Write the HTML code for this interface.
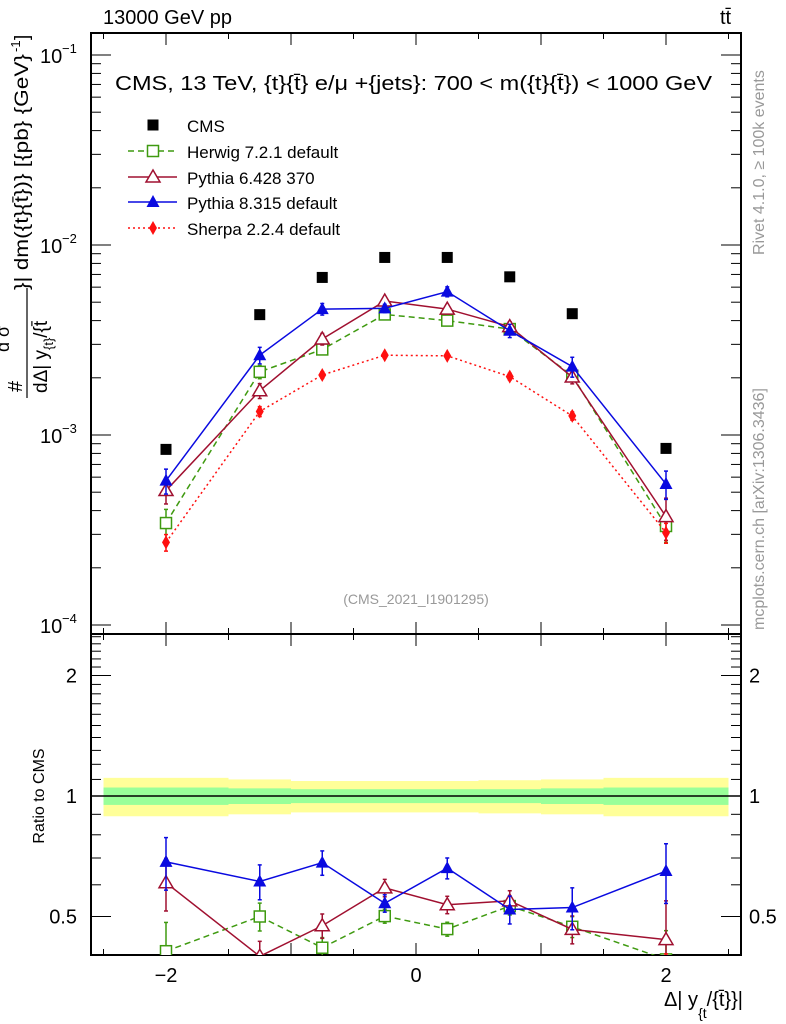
<!DOCTYPE html>
<html><head><meta charset="utf-8"><style>
html,body{margin:0;padding:0;background:#fff;}
svg{display:block;font-family:"Liberation Sans",sans-serif;}
</style></head><body>
<svg id="plot" width="786" height="1024" viewBox="0 0 786 1024" xmlns="http://www.w3.org/2000/svg">
<defs>
<clipPath id="clipMain"><rect x="91" y="33" width="650" height="601"/></clipPath>
<clipPath id="clipRatio"><rect x="91" y="634" width="650" height="321"/></clipPath>
</defs>
<text x="103" y="24" font-size="20">13000 GeV pp</text>
<text x="720" y="24" font-size="20">tt̄</text>
<g id="bands" clip-path="url(#clipRatio)"></g>
<g id="axes"></g>
<text x="115" y="90" font-size="20" textLength="597" lengthAdjust="spacingAndGlyphs">CMS, 13 TeV, {t}{t̄} e/μ +{jets}: 700 &lt; m({t}{t̄}) &lt; 1000 GeV</text>
<text x="416" y="604" font-size="14" fill="#999" text-anchor="middle">(CMS_2021_I1901295)</text>
<g id="series"></g>
<g id="legend"></g>
<g transform="rotate(-90)">
<text x="-392" y="22" font-size="20">#</text>
<text x="-352" y="9" font-size="18">d σ</text>
<line x1="-398" y1="27" x2="-288" y2="27" stroke="#000" stroke-width="1.2"/>
<text x="-393" y="47" font-size="19">dΔ| y<tspan font-size="13" dy="6">{t}</tspan><tspan dy="-6">/{t̄</tspan></text>
<text x="-290" y="28" font-size="19" textLength="236" lengthAdjust="spacingAndGlyphs">}| dm({t}{t̄})} [{pb} {GeV}</text>
<text x="-52" y="20" font-size="13">-1</text><text x="-40" y="28" font-size="19">]</text>
</g>
<text transform="translate(44,796) rotate(-90)" font-size="16" text-anchor="middle">Ratio to CMS</text>
<text transform="translate(764,255) rotate(-90)" font-size="16" fill="#999">Rivet 4.1.0, ≥ 100k events</text>
<text transform="translate(764,630) rotate(-90)" font-size="16" fill="#999">mcplots.cern.ch [arXiv:1306.3436]</text>
<text x="743" y="1006" font-size="20" text-anchor="end">Δ| y<tspan font-size="14" dy="12">{t</tspan><tspan dy="-12">/{t̄}}|</tspan></text>
</svg>
<script>
const xCenters=[-2,-1.25,-0.75,-0.25,0.25,0.75,1.25,2];
const binEdges=[-2.5,-1.5,-1,-0.5,0,0.5,1,1.5,2.5];
const cmsValues=[8.4e-4,4.3e-3,6.75e-3,8.6e-3,8.6e-3,6.8e-3,4.35e-3,8.5e-4];
const bandStat=[0.05,0.045,0.04,0.04,0.04,0.04,0.045,0.05];
const bandTotal=[0.11,0.10,0.09,0.09,0.09,0.095,0.10,0.11];
const herwigValues=[3.44e-4,2.15e-3,2.82e-3,4.31e-3,4.0e-3,3.61e-3,2.05e-3,3.32e-4];
const herwigErr=[0.18,0.08,0.06,0.04,0.04,0.05,0.06,0.18];
const pythia6Values=[5.1e-4,1.71e-3,3.2e-3,5.07e-3,4.6e-3,3.72e-3,2.02e-3,3.72e-4];
const pythia6Err=[0.15,0.09,0.07,0.05,0.05,0.06,0.08,0.25];
const pythia8Values=[5.75e-4,2.63e-3,4.6e-3,4.64e-3,5.68e-3,3.54e-3,2.29e-3,5.52e-4];
const pythia8Err=[0.15,0.1,0.07,0.05,0.06,0.08,0.12,0.17];
const sherpaValues=[2.72e-4,1.33e-3,2.07e-3,2.63e-3,2.61e-3,2.03e-3,1.26e-3,3.06e-4];
const sherpaErr=[0.1,0.06,0.04,0.03,0.03,0.04,0.05,0.12];
const mainTickLabels=["−1","−2","−3","−4"];
const ratioTickLabels=["0.5","1","2"];
const xTickLabels=["−2","0","2"];

const NS="http://www.w3.org/2000/svg";
const X=v=>416+125*v;
const YM=v=>245-(Math.log10(v)+2)*190;
const YR=r=>796-Math.log2(r)*120.5;
function el(tag,attrs,parent){const e=document.createElementNS(NS,tag);for(const k in attrs)e.setAttribute(k,attrs[k]);parent.appendChild(e);return e;}
const axes=document.getElementById('axes');
const bands=document.getElementById('bands');
for(let i=0;i<8;i++){
  const x1=X(binEdges[i]),x2=X(binEdges[i+1]);
  const y=el('rect',{x:x1,y:YR(1+bandTotal[i]),width:x2-x1,height:YR(1-bandTotal[i])-YR(1+bandTotal[i]),fill:'#ffff99'},bands);
  
  
  const g=el('rect',{x:x1,y:YR(1+bandStat[i]),width:x2-x1,height:YR(1-bandStat[i])-YR(1+bandStat[i]),fill:'#99ff99'},bands);
  
  
}
el('line',{x1:91,y1:YR(1),x2:741,y2:YR(1),stroke:'#000','stroke-width':1.5},axes);
el('rect',{x:91,y:33,width:650,height:601,fill:'none',stroke:'#000','stroke-width':2},axes);
el('rect',{x:91,y:634,width:650,height:321,fill:'none',stroke:'#000','stroke-width':2},axes);
for(let k=-5;k<=5;k++){
  const v=k*0.5,x=X(v),len=(k%2===0)?12:6;
  for(const [yb,dir] of [[33,1],[634,-1],[634,1],[955,-1]]){
    el('line',{x1:x,y1:yb,x2:x,y2:yb+dir*len,stroke:'#000','stroke-width':1},axes);
  }
}
[-2,0,2].forEach((v,i)=>{const t=el('text',{x:X(v),y:982,'font-size':20,'text-anchor':'middle'},axes);t.textContent=xTickLabels[i];

});
for(let d=-5;d<=-1;d++){
  for(let m=1;m<=9;m++){
    const v=m*Math.pow(10,d),y=YM(v);
    if(y<33||y>634)continue;
    const len=m===1?20:10;
    el('line',{x1:91,y1:y,x2:91+len,y2:y,stroke:'#000','stroke-width':1},axes);
    el('line',{x1:741,y1:y,x2:741-len,y2:y,stroke:'#000','stroke-width':1},axes);
  }
}
[-1,-2,-3,-4].forEach((d,i)=>{const y=YM(Math.pow(10,d));
  const t=el('text',{x:40,y:y+8,'font-size':20},axes);t.textContent='10';
  
  
  const s=el('text',{x:62,y:y-2,'font-size':13},axes);s.textContent=mainTickLabels[i];});
const rt=[0.4,0.5,0.6,0.7,0.8,0.9,1,1.1,1.2,1.3,1.4,1.5,1.6,1.7,1.8,1.9,2,2.1,2.2,2.3,2.4,2.5];
rt.forEach(r=>{const y=YR(r);if(y<634||y>955)return;const len=(r===0.5||r===1||r===2)?20:10;
  el('line',{x1:91,y1:y,x2:91+len,y2:y,stroke:'#000','stroke-width':1},axes);
  el('line',{x1:741,y1:y,x2:741-len,y2:y,stroke:'#000','stroke-width':1},axes);});
[0.5,1,2].forEach((r,i)=>{
  const a=el('text',{x:77,y:YR(r)+7,'font-size':20,'text-anchor':'end'},axes);a.textContent=ratioTickLabels[i];
  
  
  const b=el('text',{x:749,y:YR(r)+7,'font-size':20},axes);b.textContent=ratioTickLabels[i];
  
  });
function marker(type,color,x,y,parent){
  if(type==='square')return el('rect',{x:x-5.5,y:y-5.5,width:11,height:11,fill:color},parent);
  if(type==='osquare')return el('rect',{x:x-5.5,y:y-5.5,width:11,height:11,fill:'#fff',stroke:color,'stroke-width':1.5},parent);
  if(type==='otri')return el('path',{d:`M${x},${y-7}L${x+7},${y+5}L${x-7},${y+5}Z`,fill:'#fff',stroke:color,'stroke-width':1.5},parent);
  if(type==='tri')return el('path',{d:`M${x},${y-7}L${x+6.5},${y+5}L${x-6.5},${y+5}Z`,fill:color},parent);
  if(type==='diam')return el('path',{d:`M${x},${y-7}L${x+4},${y}L${x},${y+7}L${x-4},${y}Z`,fill:color},parent);
}
const series=document.getElementById('series');
const mcs=[
 {name:'herwig',vals:herwigValues,err:herwigErr,color:'#3f9a10',dash:'6,4',m:'osquare'},
 {name:'pythia6',vals:pythia6Values,err:pythia6Err,color:'#a01030',dash:'',m:'otri'},
 {name:'pythia8',vals:pythia8Values,err:pythia8Err,color:'#0a0ae0',dash:'',m:'tri'},
 {name:'sherpa',vals:sherpaValues,err:sherpaErr,color:'#ff1010',dash:'2,3',m:'diam'}];
function drawSeries(s,Yf,vals,errs,clip,suffix){
  const g=el('g',{'clip-path':`url(#${clip})`},series);
  
  
  const pts=xCenters.map((x,i)=>X(x)+','+Yf(vals[i])).join(' ');
  const pl=el('polyline',{points:pts,fill:'none',stroke:s.color,'stroke-width':1.5},g);
  if(s.dash)pl.setAttribute('stroke-dasharray',s.dash);
  xCenters.forEach((x,i)=>{
    const cx=X(x),v=vals[i],e=errs[i];
    const y1=Yf(v*(1+e)),y2=Yf(v*(1-e));
    el('line',{x1:cx,y1:y1,x2:cx,y2:y2,stroke:s.color,'stroke-width':1.5},g);
    el('line',{x1:cx-2,y1:y1,x2:cx+2,y2:y1,stroke:s.color,'stroke-width':1.5},g);
    el('line',{x1:cx-2,y1:y2,x2:cx+2,y2:y2,stroke:s.color,'stroke-width':1.5},g);
    const m=marker(s.m,s.color,cx,Yf(v),g);
    
    
  });
}
const cg=el('g',{},series);


xCenters.forEach((x,i)=>{const m=marker('square','#000',X(x),YM(cmsValues[i]),cg);
  
  });
mcs.forEach(s=>{
  drawSeries(s,YM,s.vals,s.err,'clipMain','main');
  const ratios=s.vals.map((v,i)=>v/cmsValues[i]);
  drawSeries(s,YR,ratios,s.err,'clipRatio','ratio');
});
const leg=document.getElementById('legend');
const labels=['CMS','Herwig 7.2.1 default','Pythia 6.428 370','Pythia 8.315 default','Sherpa 2.2.4 default'];
const rows=[125,151,177,202,228];
marker('square','#000',153,rows[0],leg);
const t0=el('text',{x:187,y:rows[0]+7,'font-size':17},leg);t0.textContent=labels[0];


mcs.forEach((s,i)=>{const y=rows[i+1];
  const l=el('line',{x1:128,y1:y,x2:177,y2:y,stroke:s.color,'stroke-width':1.5},leg);
  if(s.dash)l.setAttribute('stroke-dasharray',s.dash);
  marker(s.m,s.color,153,y,leg);
  const t=el('text',{x:187,y:y+7,'font-size':17},leg);t.textContent=labels[i+1];
  
  });
</script>
</body></html>
